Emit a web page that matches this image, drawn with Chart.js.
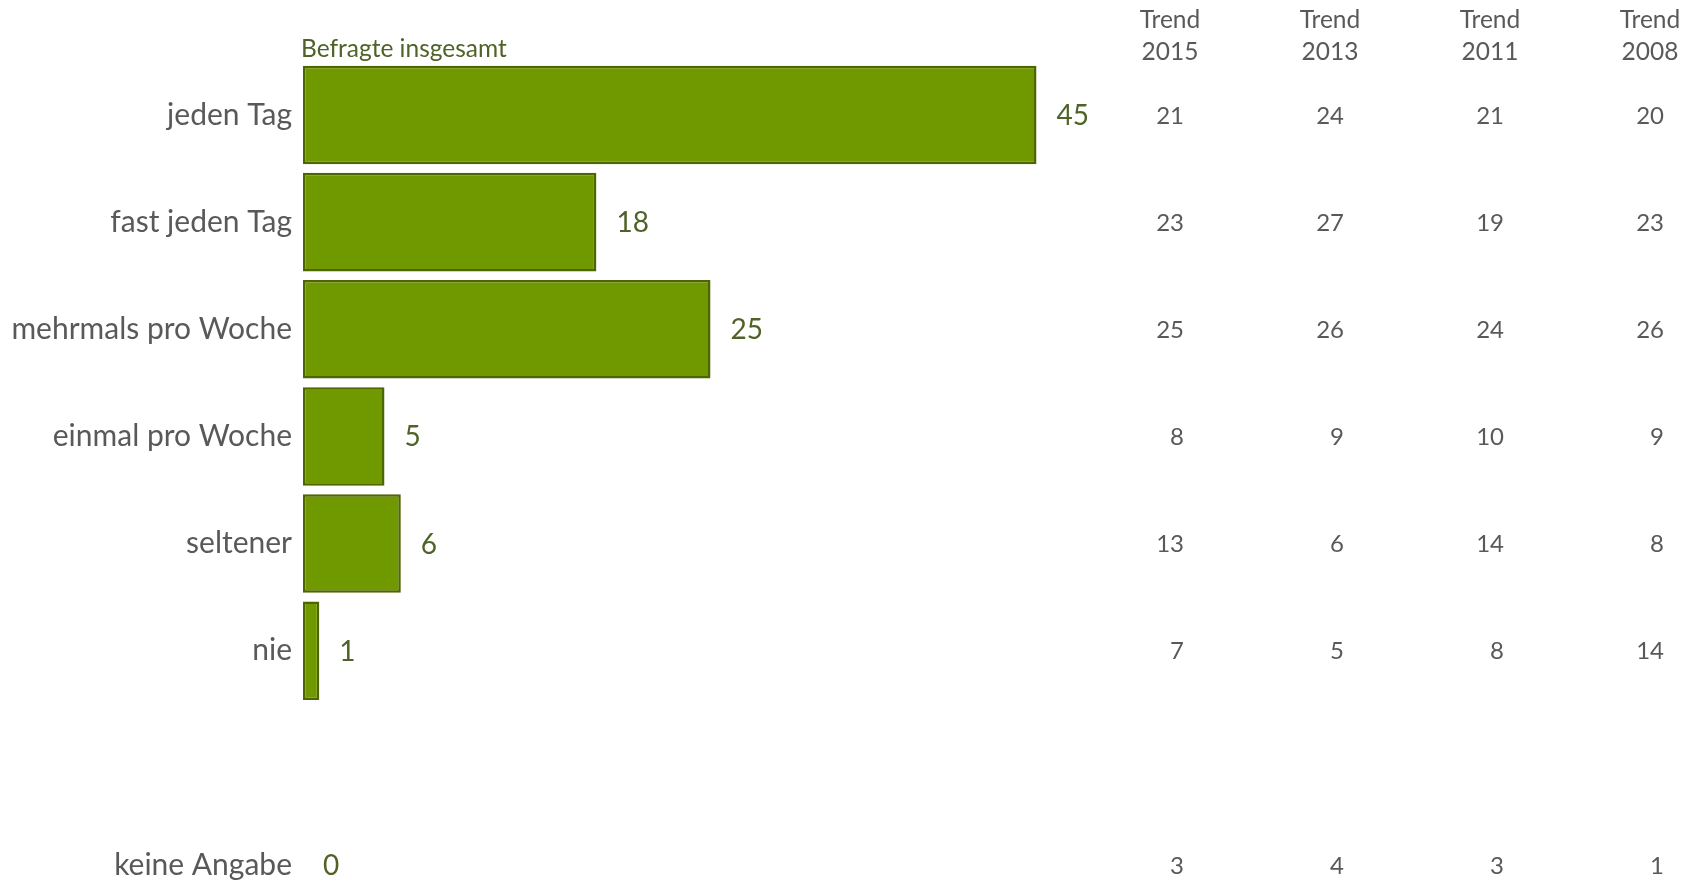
<!DOCTYPE html>
<html>
<head>
<meta charset="utf-8">
<script src="https://cdn.jsdelivr.net/npm/chart.js@4"></script>
<style>
  html, body { margin: 0; padding: 0; background: #fff; overflow: hidden; }
  #wrap { width: 1698px; height: 880px; }
</style>
</head>
<body>
<div id="wrap"><canvas id="grafico"></canvas></div>
<script>
// dati
const categorie = ['jeden Tag', 'fast jeden Tag', 'mehrmals pro Woche', 'einmal pro Woche', 'seltener', 'nie', '', 'keine Angabe'];
const befragteInsgesamt = [45, 18, 25, 5, 6, 1, null, 0];
const trendTitoli = [['Trend', '2015'], ['Trend', '2013'], ['Trend', '2011'], ['Trend', '2008']];
const trend2015 = [21, 23, 25, 8, 13, 7, null, 3];
const trend2013 = [24, 27, 26, 9, 6, 5, null, 4];
const trend2011 = [21, 19, 24, 10, 14, 8, null, 3];
const trend2008 = [20, 23, 26, 9, 8, 14, null, 1];
const colonneTrend = [trend2015, trend2013, trend2011, trend2008];

const FONT = 'Lato, "Open Sans", sans-serif';
const VERDE = '#709900';
const VERDE_BORDO = '#4d6600';
const VERDE_TESTO = '#4f6228';
const GRIGIO = '#595959';

// etichette valori, intestazione e colonne trend
const pluginTesti = {
    id: 'testiExtra',
    afterDatasetsDraw: (chart) => {
        const ctx = chart.ctx;
        const xAxis = chart.scales.x;
        const yAxis = chart.scales.y;
        const area = chart.chartArea;

        ctx.save();
        // valori accanto alle barre
        ctx.font = '28px ' + FONT;
        ctx.fillStyle = VERDE_TESTO;
        ctx.textAlign = 'left';
        ctx.textBaseline = 'middle';
        befragteInsgesamt.forEach((v, i) => {
            if (v === null) return;
            ctx.fillText(String(v), xAxis.getPixelForValue(v) + 20, yAxis.getPixelForValue(i) + 1);
        });

        // titolo serie
        ctx.font = '24.5px ' + FONT;
        ctx.textBaseline = 'alphabetic';
        ctx.fillText('Befragte insgesamt', area.left - 2, 57);

        // colonne trend
        const primaX = 1170, passoX = 160;
        ctx.fillStyle = GRIGIO;
        trendTitoli.forEach((righe, c) => {
            const cx = primaX + c * passoX;
            ctx.font = '24.5px ' + FONT;
            ctx.textAlign = 'center';
            ctx.textBaseline = 'alphabetic';
            ctx.fillText(righe[0], cx, 28);
            ctx.fillText(righe[1], cx, 60);

            ctx.font = '24px ' + FONT;
            ctx.textAlign = 'right';
            ctx.textBaseline = 'middle';
            colonneTrend[c].forEach((v, i) => {
                if (v === null) return;
                ctx.fillText(String(v), cx + 14, yAxis.getPixelForValue(i) + 1);
            });
        });
        ctx.restore();
    }
};

new Chart(document.getElementById('grafico'), {
    type: 'bar',
    data: {
        labels: categorie,
        datasets: [{
            label: 'Befragte insgesamt',
            data: befragteInsgesamt,
            backgroundColor: VERDE,
            borderColor: VERDE_BORDO,
            borderWidth: 2.5,
            borderSkipped: false,
            categoryPercentage: 1,
            barPercentage: 0.92,
            clip: false
        }]
    },
    options: {
        indexAxis: 'y',
        responsive: true,
        maintainAspectRatio: false,
        animation: false,
        layout: { padding: { top: 115, bottom: 15, right: 580, left: 0 } },
        plugins: {
            legend: { display: false },
            tooltip: { enabled: false }
        },
        scales: {
            x: {
                display: false,
                min: 0,
                max: 50
            },
            y: {
                offset: false,
                grid: { display: false },
                border: { display: false },
                ticks: {
                    color: GRIGIO,
                    font: { family: FONT, size: 30 },
                    padding: 3,
                    autoSkip: false
                },
                afterFit: (scale) => {
                    scale.width = 303;
                    scale.paddingTop = 0;
                    scale.paddingBottom = 0;
                }
            }
        }
    },
    plugins: [pluginTesti]
});
</script>
</body>
</html>
